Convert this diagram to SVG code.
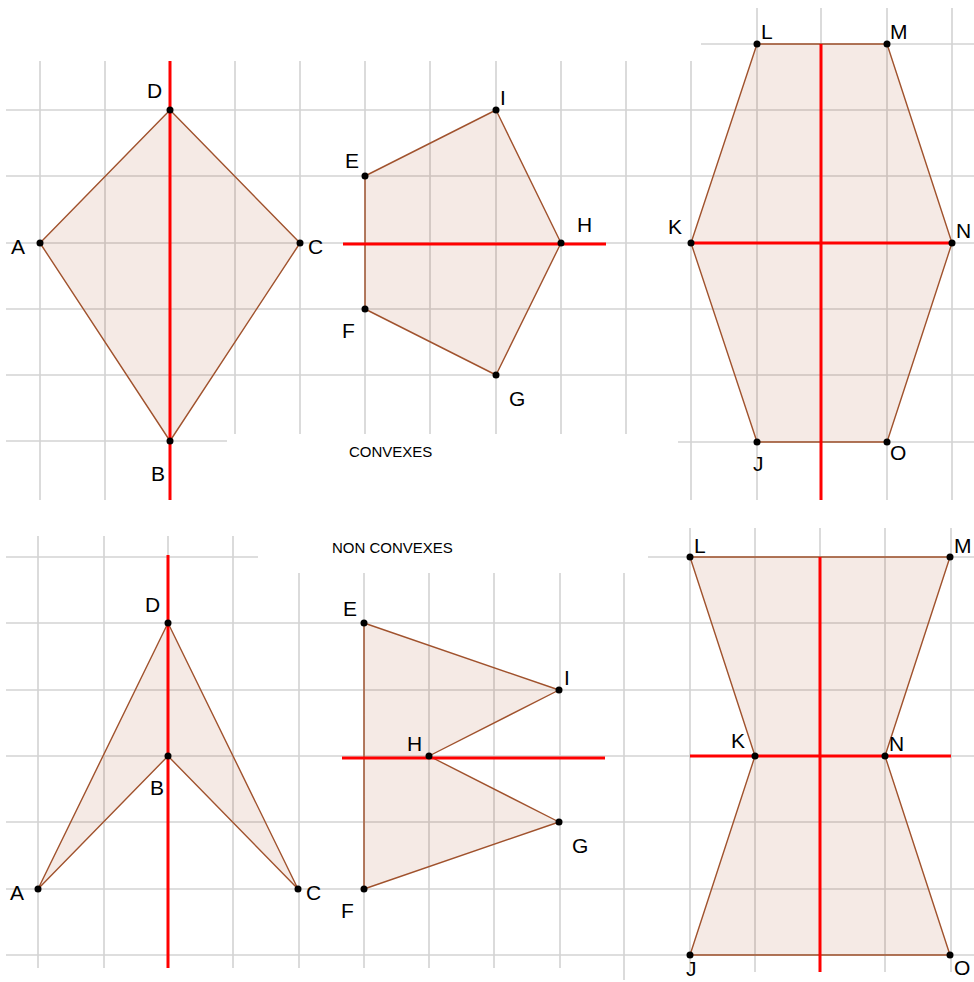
<svg xmlns="http://www.w3.org/2000/svg" width="974" height="982" viewBox="0 0 974 982">
<style>
.grid{fill:none;stroke:#d3d3d3;stroke-width:1.6}
.poly{fill:rgba(153,51,0,0.1);stroke:#a0522d;stroke-width:1.4;stroke-linejoin:round}
.axis{fill:none;stroke:#ff0000;stroke-width:3}
.pt{fill:#000}
.lbl{font-family:"Liberation Sans",Arial,sans-serif;font-size:21px;fill:#000}
.title{font-family:"Liberation Sans",Arial,sans-serif;font-size:15px;fill:#000}
</style>
<rect width="974" height="982" fill="#fff"/>
<g id="grid" class="grid">
<path d="M6 110H974M6 176H974M6 243H974M6 309H974M6 375H974M6 441H227M678 442H974M701 44H974"/>
<path d="M40 61V500M105 61V500M170 61V500M235 61V434M300 61V434M365 61V434M430 61V434M496 61V434M561 61V434M626 61V434M691 61V500M757 8V500M821 8V500M887 8V500M952 8V500"/>
<path d="M6 557H258M648 557H974M6 623H974M6 690H974M6 756H974M6 822H974M6 889H974M6 955H974"/>
<path d="M38 536V968M104 536V968M168 536V968M233 536V968M299 573V968M364 573V968M429 573V968M494 573V968M560 573V968M624 573V980M690 528V972M755 528V972M820 528V972M885 528V972M951 528V972"/>
</g>
<g id="convex-kite">
<polygon class="poly" points="170,110 300,243 170,441 40,243"/>
<line class="axis" x1="170" y1="61" x2="170" y2="500"/>
<circle class="pt" cx="170" cy="110" r="3.5"/><circle class="pt" cx="300" cy="243" r="3.5"/><circle class="pt" cx="170" cy="441" r="3.5"/><circle class="pt" cx="40" cy="243" r="3.5"/>
<text class="lbl" x="147" y="98">D</text><text class="lbl" x="11" y="254">A</text><text class="lbl" x="308" y="254">C</text><text class="lbl" x="151" y="481">B</text>
</g>
<g id="convex-pentagon">
<polygon class="poly" points="496,110 561,243 496,375 365,309 365,176"/>
<line class="axis" x1="343" y1="244" x2="606" y2="244"/>
<circle class="pt" cx="496" cy="110" r="3.5"/><circle class="pt" cx="561" cy="243" r="3.5"/><circle class="pt" cx="496" cy="375" r="3.5"/><circle class="pt" cx="365" cy="309" r="3.5"/><circle class="pt" cx="365" cy="176" r="3.5"/>
<text class="lbl" x="345" y="168">E</text><text class="lbl" x="500" y="105">I</text><text class="lbl" x="577" y="232">H</text><text class="lbl" x="342" y="338">F</text><text class="lbl" x="509" y="406">G</text>
</g>
<g id="convex-hexagon">
<polygon class="poly" points="757,44 887,44 952,243 887,442 757,442 691,243"/>
<line class="axis" x1="821" y1="44" x2="821" y2="500"/>
<line class="axis" x1="691" y1="243" x2="952" y2="243"/>
<circle class="pt" cx="757" cy="44" r="3.5"/><circle class="pt" cx="887" cy="44" r="3.5"/><circle class="pt" cx="952" cy="243" r="3.5"/><circle class="pt" cx="887" cy="442" r="3.5"/><circle class="pt" cx="757" cy="442" r="3.5"/><circle class="pt" cx="691" cy="243" r="3.5"/>
<text class="lbl" x="761" y="39">L</text><text class="lbl" x="890" y="39">M</text><text class="lbl" x="668" y="234">K</text><text class="lbl" x="956" y="238">N</text><text class="lbl" x="753" y="471">J</text><text class="lbl" x="890" y="460">O</text>
</g>
<text class="title" x="349" y="457">CONVEXES</text>
<text class="title" x="332" y="553">NON CONVEXES</text>
<g id="nonconvex-arrow">
<polygon class="poly" points="168,623 298,889 168,756 38,889"/>
<line class="axis" x1="168" y1="555" x2="168" y2="968"/>
<circle class="pt" cx="168" cy="623" r="3.5"/><circle class="pt" cx="298" cy="889" r="3.5"/><circle class="pt" cx="168" cy="756" r="3.5"/><circle class="pt" cx="38" cy="889" r="3.5"/>
<text class="lbl" x="145" y="612">D</text><text class="lbl" x="150" y="795">B</text><text class="lbl" x="10" y="900">A</text><text class="lbl" x="306" y="900">C</text>
</g>
<g id="nonconvex-pentagon">
<polygon class="poly" points="364,623 559,690 429,756 559,822 364,889"/>
<line class="axis" x1="342" y1="758" x2="605" y2="758"/>
<circle class="pt" cx="364" cy="623" r="3.5"/><circle class="pt" cx="559" cy="690" r="3.5"/><circle class="pt" cx="429" cy="756" r="3.5"/><circle class="pt" cx="559" cy="822" r="3.5"/><circle class="pt" cx="364" cy="889" r="3.5"/>
<text class="lbl" x="343" y="616">E</text><text class="lbl" x="564" y="685">I</text><text class="lbl" x="407" y="751">H</text><text class="lbl" x="572" y="853">G</text><text class="lbl" x="341" y="918">F</text>
</g>
<g id="nonconvex-hexagon">
<polygon class="poly" points="690,557 950,557 885,756 950,955 690,955 755,756"/>
<line class="axis" x1="820" y1="557" x2="820" y2="972"/>
<line class="axis" x1="690" y1="756" x2="951" y2="756"/>
<circle class="pt" cx="690" cy="557" r="3.5"/><circle class="pt" cx="950" cy="557" r="3.5"/><circle class="pt" cx="885" cy="756" r="3.5"/><circle class="pt" cx="950" cy="955" r="3.5"/><circle class="pt" cx="690" cy="955" r="3.5"/><circle class="pt" cx="755" cy="756" r="3.5"/>
<text class="lbl" x="694" y="553">L</text><text class="lbl" x="954" y="553">M</text><text class="lbl" x="731" y="748">K</text><text class="lbl" x="889" y="751">N</text><text class="lbl" x="686" y="976">J</text><text class="lbl" x="954" y="975">O</text>
</g>
</svg>
